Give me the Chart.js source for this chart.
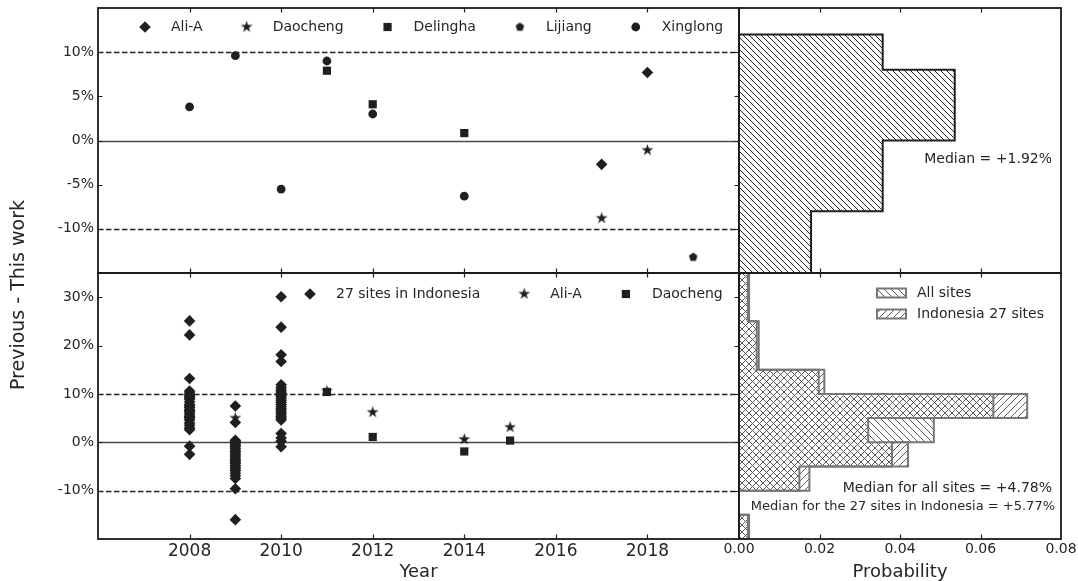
<!DOCTYPE html>
<html>
<head>
<meta charset="utf-8">
<title>Previous - This work</title>
<script src="https://cdn.jsdelivr.net/npm/chart.js@4.4.1/dist/chart.umd.min.js"></script>
<style>
  html, body { margin: 0; padding: 0; background: #ffffff; }
  #figure { position: relative; width: 1078px; height: 581px; overflow: hidden; }
  #figure canvas { position: absolute; left: 0; top: 0; }
</style>
</head>
<body>
<div id="figure">
  <canvas id="upperScatter" width="1078" height="581"></canvas>
  <canvas id="lowerScatter" width="1078" height="581"></canvas>
  <canvas id="upperHist" width="1078" height="581"></canvas>
  <canvas id="lowerHist" width="1078" height="581"></canvas>
</div>
<script>
// ---------------- data ----------------
const yearTicks = [2008, 2010, 2012, 2014, 2016, 2018];
const upperPctTicks = [-10, -5, 0, 5, 10];
const lowerPctTicks = [-10, 0, 10, 20, 30];
const probTicks = [0, 0.02, 0.04, 0.06, 0.08];
const probInnerTicks = [0.02, 0.04, 0.06];

// upper panel: Chinese sites
const aliUpperYears = [2017, 2018];
const aliUpperDiff = [-2.7, 7.7];
const daochengUpperYears = [2017, 2018];
const daochengUpperDiff = [-8.8, -1.1];
const delinghaYears = [2011, 2012, 2014];
const delinghaDiff = [7.9, 4.1, 0.84];
const lijiangYears = [2019];
const lijiangDiff = [-13.2];
const xinglongYears = [2008, 2009, 2010, 2011, 2012, 2014];
const xinglongDiff = [3.8, 9.6, -5.5, 9.0, 3.0, -6.3];

// lower panel: 27 Indonesian sites per campaign year, plus Ali-A and Daocheng
const indonesiaYears = [2008, 2009, 2010];
const indonesia2008 = [25.1, 22.2, 13.2, 10.6, 10.2, 9.8, 9.5, 9.2, 8.9, 8.4, 7.8, 7.5, 7.2, 6.8,
  6.5, 6.2, 5.8, 5.4, 5.2, 5.0, 4.6, 4.0, 3.5, 3.0, 2.6, -0.8, -2.5];
const indonesia2009 = [7.5, 4.1, 0.4, 0.2, 0.0, -0.3, -0.6, -0.9, -1.3, -1.7, -2.0, -2.4, -2.8, -3.1,
  -3.5, -3.8, -4.1, -4.4, -4.8, -5.1, -5.5, -5.9, -6.4, -6.9, -7.5, -9.6, -16.0];
const indonesia2010 = [30.1, 23.8, 18.1, 16.7, 11.9, 11.3, 10.8, 10.4, 10.1, 9.8, 9.4, 9.0, 8.6, 8.2,
  7.8, 7.4, 7.0, 6.6, 6.2, 5.8, 5.4, 5.0, 4.6, 1.8, 0.9, 0.2, -0.9];
const aliLowerYears = [2009, 2011, 2012, 2014, 2015];
const aliLowerDiff = [5.0, 10.6, 6.2, 0.6, 3.1];
const daochengLowerYears = [2011, 2012, 2014, 2015];
const daochengLowerDiff = [10.4, 1.1, -1.9, 0.35];

// histograms (probability density per bin)
const upperBinEdges = [-16, -12, -8, -4, 0, 4, 8, 12];
const upperBinProb = [0.0179, 0.0179, 0.0357, 0.0357, 0.0536, 0.0536, 0.0357];
const lowerBinEdges = [-20, -15, -10, -5, 0, 5, 10, 15, 20, 25, 30, 35];
const allSitesProb = [0.0022, 0, 0.0150, 0.0380, 0.0484, 0.0632, 0.0198, 0.0044, 0.0044, 0.0022, 0.0022];
const indonesiaProb = [0.0025, 0, 0.0175, 0.0420, 0.0321, 0.0716, 0.0212, 0.0049, 0.0049, 0.0025, 0.0025];

const upperMedianText = 'Median = +1.92%';
const allMedianText = 'Median for all sites = +4.78%';
const indonesiaMedianText = 'Median for the 27 sites in Indonesia = +5.77%';

// ---------------- layout & style ----------------
const W = 1078, H = 581;
const LEFT = 98, MID = 739, RIGHT = 1061, TOP = 8, SPLIT = 273, BOTTOM = 539;
const FONT = "'DejaVu Sans', 'Liberation Sans', sans-serif";
const INK = '#1f1f1f';
const TXT = '#262626';
const GREY = '#777777';

Chart.defaults.font.family = FONT;
Chart.defaults.color = TXT;

function areaPadding(l, t, r, b) {
  return { left: l, top: t, right: W - r, bottom: H - b };
}

// filled marker images for star and pentagon
function polygonMarker(points, outer, inner) {
  const s = Math.ceil(outer * 2 + 4);
  const c = document.createElement('canvas');
  c.width = s; c.height = s;
  const g = c.getContext('2d');
  g.fillStyle = INK;
  g.beginPath();
  const n = inner ? points * 2 : points;
  for (let i = 0; i < n; i++) {
    const r = inner && i % 2 ? inner : outer;
    const a = -Math.PI / 2 + i * 2 * Math.PI / n;
    const px = s / 2 + r * Math.cos(a), py = s / 2 + r * Math.sin(a);
    if (i) g.lineTo(px, py); else g.moveTo(px, py);
  }
  g.closePath();
  g.fill();
  return c;
}
const starMarker = polygonMarker(5, 6.2, 6.2 * 0.382);
const pentagonMarker = polygonMarker(5, 4.5, 0);

const MARK = {
  diamond: { style: 'rectRot', radius: 5.8 },
  square: { style: 'rect', radius: 5.8 },
  circle: { style: 'circle', radius: 4.4 },
  star: { style: starMarker, radius: 5 },
  pentagon: { style: pentagonMarker, radius: 4 }
};

function drawMarker(ctx, m, x, y) {
  ctx.save();
  ctx.fillStyle = INK;
  if (Chart.helpers && Chart.helpers.drawPoint) {
    Chart.helpers.drawPoint(ctx, { pointStyle: m.style, radius: m.radius, rotation: 0, borderWidth: 0 }, x, y);
  } else if (typeof m.style === 'object') {
    ctx.drawImage(m.style, x - m.style.width / 2, y - m.style.height / 2);
  } else {
    ctx.beginPath();
    if (m.style === 'circle') ctx.arc(x, y, m.radius, 0, Math.PI * 2);
    else if (m.style === 'rect') { const h = m.radius * Math.SQRT1_2; ctx.rect(x - h, y - h, 2 * h, 2 * h); }
    else { ctx.moveTo(x, y - m.radius); ctx.lineTo(x + m.radius, y); ctx.lineTo(x, y + m.radius); ctx.lineTo(x - m.radius, y); ctx.closePath(); }
    ctx.fill();
  }
  ctx.restore();
}

function hatch(kind, color, size, lw) {
  const c = document.createElement('canvas');
  c.width = size; c.height = size;
  const g = c.getContext('2d');
  g.strokeStyle = color;
  g.lineWidth = lw;
  g.beginPath();
  for (let k = -1; k <= 1; k++) {
    if (kind === '\\') { g.moveTo(k * size, 0); g.lineTo(k * size + size, size); }
    else { g.moveTo(k * size, size); g.lineTo(k * size + size, 0); }
  }
  g.stroke();
  return g.createPattern(c, 'repeat');
}
const upperHatch = hatch('\\', '#1f1f1f', 6, 1);
const allHatch = hatch('\\', '#5a5a5a', 7, 1);
const indoHatch = hatch('/', '#5a5a5a', 7, 1);

function siteSeries(label, years, diffs, mark) {
  return {
    label,
    data: years.map((yr, i) => ({ x: yr, y: diffs[i] })),
    pointStyle: mark.style,
    pointRadius: mark.radius,
    pointHoverRadius: mark.radius,
    pointBackgroundColor: INK,
    pointBorderColor: INK,
    pointBorderWidth: 0,
    showLine: false
  };
}

function binCenters(edges) {
  return edges.slice(0, -1).map((e, i) => (e + edges[i + 1]) / 2);
}
function stepOutline(edges, probs) {
  const pts = [{ x: 0, y: edges[0] }];
  probs.forEach((p, i) => { pts.push({ x: p, y: edges[i] }); pts.push({ x: p, y: edges[i + 1] }); });
  pts.push({ x: 0, y: edges[edges.length - 1] });
  return pts;
}
function histBars(edges, probs, pattern) {
  return {
    type: 'bar',
    order: 2,
    data: binCenters(edges).map((c, i) => ({ x: probs[i], y: c })),
    backgroundColor: pattern,
    borderWidth: 0,
    barPercentage: 1,
    categoryPercentage: 1,
    grouped: false
  };
}
function histOutline(edges, probs, color, width) {
  return {
    type: 'line',
    order: 1,
    data: stepOutline(edges, probs),
    borderColor: color,
    borderWidth: width,
    pointRadius: 0,
    pointHoverRadius: 0,
    fill: false,
    tension: 0
  };
}

function pctAxis(min, max, ticks) {
  return {
    type: 'linear', min, max, offset: false,
    grid: { display: false, drawTicks: false },
    border: { display: false },
    afterBuildTicks: s => { s.ticks = ticks.map(v => ({ value: v })); },
    afterFit: s => { s.width = LEFT; s.paddingTop = 0; s.paddingBottom = 0; s.paddingLeft = 0; s.paddingRight = 0; },
    ticks: { padding: 4, color: TXT, font: { family: FONT, size: 14 }, callback: v => v + '%' }
  };
}
function hiddenAxis(min, max, ticks) {
  return {
    type: 'linear', min, max, offset: false, display: false,
    afterBuildTicks: s => { s.ticks = ticks.map(v => ({ value: v })); }
  };
}
function bottomAxis(min, max, ticks, fmt, size, title) {
  return {
    type: 'linear', min, max, offset: false,
    grid: { display: false, drawTicks: false },
    border: { display: false },
    afterBuildTicks: s => { s.ticks = ticks.map(v => ({ value: v })); },
    afterFit: s => { s.height = H - BOTTOM; s.paddingLeft = 0; s.paddingRight = 0; s.paddingTop = 0; s.paddingBottom = 0; },
    ticks: { padding: 2, color: TXT, maxRotation: 0, autoSkip: false, font: { family: FONT, size }, callback: fmt },
    title: { display: true, text: title, color: TXT, padding: 0, font: { family: FONT, size: 18, lineHeight: 1 } }
  };
}

const pctRefLines = [
  { value: 10, dash: [5.5, 2.5], color: '#222222', width: 1.3 },
  { value: 0, dash: [], color: '#4a4a4a', width: 1.5 },
  { value: -10, dash: [5.5, 2.5], color: '#222222', width: 1.3 }
];

// frame, inward ticks and reference lines for each panel
function panelFrame(xTicks, yTicks, refs) {
  return {
    id: 'panelFrame',
    beforeDatasetsDraw(chart) {
      const { ctx, chartArea: a, scales } = chart;
      ctx.save();
      refs.forEach(r => {
        const py = Math.round(scales.y.getPixelForValue(r.value)) + 0.5;
        ctx.beginPath();
        ctx.setLineDash(r.dash);
        ctx.strokeStyle = r.color;
        ctx.lineWidth = r.width;
        ctx.moveTo(a.left, py);
        ctx.lineTo(a.right, py);
        ctx.stroke();
      });
      ctx.restore();
    },
    afterDraw(chart) {
      const { ctx, chartArea: a, scales } = chart;
      const L = 4.5;
      ctx.save();
      ctx.strokeStyle = INK;
      ctx.lineWidth = 1.2;
      ctx.beginPath();
      xTicks.forEach(v => {
        const px = Math.round(scales.x.getPixelForValue(v)) + 0.5;
        ctx.moveTo(px, a.top); ctx.lineTo(px, a.top + L);
        ctx.moveTo(px, a.bottom); ctx.lineTo(px, a.bottom - L);
      });
      yTicks.forEach(v => {
        const py = Math.round(scales.y.getPixelForValue(v)) + 0.5;
        ctx.moveTo(a.left, py); ctx.lineTo(a.left + L, py);
        ctx.moveTo(a.right, py); ctx.lineTo(a.right - L, py);
      });
      ctx.stroke();
      ctx.lineWidth = 1.8;
      ctx.strokeStyle = '#1a1a1a';
      ctx.strokeRect(a.left, a.top, a.right - a.left, a.bottom - a.top);
      ctx.restore();
    }
  };
}

// single-row marker legend inside a scatter panel
function markerLegend(items, xOffset, yOffset) {
  return {
    id: 'markerLegend',
    afterDraw(chart) {
      const { ctx, chartArea: a } = chart;
      ctx.save();
      ctx.font = '14px ' + FONT;
      ctx.textBaseline = 'middle';
      let x = a.left + xOffset;
      const y = a.top + yOffset;
      items.forEach(it => {
        drawMarker(ctx, it.mark, x, y);
        ctx.fillStyle = TXT;
        ctx.fillText(it.label, x + 26, y);
        x += 26 + ctx.measureText(it.label).width + 44;
      });
      ctx.restore();
    }
  };
}

function textNotes(notes) {
  return {
    id: 'textNotes',
    afterDraw(chart) {
      const { ctx, chartArea: a } = chart;
      ctx.save();
      ctx.fillStyle = TXT;
      ctx.textBaseline = 'middle';
      notes.forEach(n => {
        ctx.font = n.size + 'px ' + FONT;
        ctx.textAlign = n.align;
        ctx.fillText(n.text, a.right + n.dx, a.top + n.dy);
      });
      ctx.restore();
    }
  };
}

// ---------------- upper scatter ----------------
new Chart(document.getElementById('upperScatter'), {
  type: 'scatter',
  data: {
    datasets: [
      siteSeries('Xinglong', xinglongYears, xinglongDiff, MARK.circle),
      siteSeries('Lijiang', lijiangYears, lijiangDiff, MARK.pentagon),
      siteSeries('Delingha', delinghaYears, delinghaDiff, MARK.square),
      siteSeries('Daocheng', daochengUpperYears, daochengUpperDiff, MARK.star),
      siteSeries('Ali-A', aliUpperYears, aliUpperDiff, MARK.diamond)
    ]
  },
  options: {
    responsive: false, animation: false, events: [],
    layout: { padding: areaPadding(0, TOP, MID, SPLIT) },
    plugins: { legend: { display: false }, tooltip: { enabled: false } },
    scales: {
      x: hiddenAxis(2006, 2020, yearTicks),
      y: pctAxis(-15, 15, upperPctTicks)
    }
  },
  plugins: [
    panelFrame(yearTicks, upperPctTicks, pctRefLines),
    markerLegend([
      { label: 'Ali-A', mark: MARK.diamond },
      { label: 'Daocheng', mark: MARK.star },
      { label: 'Delingha', mark: MARK.square },
      { label: 'Lijiang', mark: MARK.pentagon },
      { label: 'Xinglong', mark: MARK.circle }
    ], 47, 19)
  ]
});

// ---------------- lower scatter ----------------
const indonesiaSeries = [indonesia2008, indonesia2009, indonesia2010];
new Chart(document.getElementById('lowerScatter'), {
  type: 'scatter',
  data: {
    datasets: [
      siteSeries('Daocheng', daochengLowerYears, daochengLowerDiff, MARK.square),
      siteSeries('Ali-A', aliLowerYears, aliLowerDiff, MARK.star),
      siteSeries('27 sites in Indonesia',
        indonesiaYears.flatMap((yr, k) => indonesiaSeries[k].map(() => yr)),
        indonesiaSeries.flat(), MARK.diamond)
    ]
  },
  options: {
    responsive: false, animation: false, events: [],
    layout: { padding: areaPadding(0, SPLIT, MID, H) },
    plugins: { legend: { display: false }, tooltip: { enabled: false } },
    scales: {
      x: bottomAxis(2006, 2020, yearTicks, v => String(v), 17, 'Year'),
      y: pctAxis(-20, 35, lowerPctTicks)
    }
  },
  plugins: [
    panelFrame(yearTicks, lowerPctTicks, pctRefLines),
    markerLegend([
      { label: '27 sites in Indonesia', mark: MARK.diamond },
      { label: 'Ali-A', mark: MARK.star },
      { label: 'Daocheng', mark: MARK.square }
    ], 212, 21),
    {
      id: 'sharedYTitle',
      afterDraw(chart) {
        const ctx = chart.ctx;
        ctx.save();
        ctx.translate(19, 295);
        ctx.rotate(-Math.PI / 2);
        ctx.font = '19px ' + FONT;
        ctx.fillStyle = TXT;
        ctx.textAlign = 'center';
        ctx.textBaseline = 'middle';
        ctx.fillText('Previous - This work', 0, 0);
        ctx.restore();
      }
    }
  ]
});

// ---------------- upper histogram ----------------
new Chart(document.getElementById('upperHist'), {
  type: 'bar',
  data: {
    datasets: [
      histBars(upperBinEdges, upperBinProb, upperHatch),
      histOutline(upperBinEdges, upperBinProb, '#1f1f1f', 2)
    ]
  },
  options: {
    indexAxis: 'y',
    responsive: false, animation: false, events: [],
    layout: { padding: areaPadding(MID, TOP, RIGHT, SPLIT) },
    plugins: { legend: { display: false }, tooltip: { enabled: false } },
    scales: {
      x: hiddenAxis(0, 0.08, probTicks),
      y: hiddenAxis(-15, 15, upperPctTicks)
    }
  },
  plugins: [
    panelFrame(probInnerTicks, [], []),
    textNotes([{ text: upperMedianText, align: 'right', size: 14, dx: -9, dy: 151 }])
  ]
});

// ---------------- lower histogram ----------------
new Chart(document.getElementById('lowerHist'), {
  type: 'bar',
  data: {
    datasets: [
      histBars(lowerBinEdges, allSitesProb, allHatch),
      histBars(lowerBinEdges, indonesiaProb, indoHatch),
      histOutline(lowerBinEdges, allSitesProb, GREY, 2),
      histOutline(lowerBinEdges, indonesiaProb, GREY, 2)
    ]
  },
  options: {
    indexAxis: 'y',
    responsive: false, animation: false, events: [],
    layout: { padding: areaPadding(MID, SPLIT, RIGHT, H) },
    plugins: { legend: { display: false }, tooltip: { enabled: false } },
    scales: {
      x: bottomAxis(0, 0.08, probTicks, v => v.toFixed(2), 14, 'Probability'),
      y: hiddenAxis(-20, 35, lowerPctTicks)
    }
  },
  plugins: [
    panelFrame(probInnerTicks, [], []),
    textNotes([
      { text: allMedianText, align: 'right', size: 14, dx: -9, dy: 215 },
      { text: indonesiaMedianText, align: 'right', size: 13, dx: -6, dy: 234 }
    ]),
    {
      id: 'histLegend',
      afterDraw(chart) {
        const { ctx, chartArea: a } = chart;
        const entries = [
          { label: 'All sites', pattern: allHatch },
          { label: 'Indonesia 27 sites', pattern: indoHatch }
        ];
        ctx.save();
        ctx.font = '14px ' + FONT;
        ctx.textBaseline = 'middle';
        entries.forEach((e, i) => {
          const cy = a.top + 20 + i * 21;
          const bx = a.left + 138;
          ctx.fillStyle = e.pattern;
          ctx.fillRect(bx, cy - 4.5, 29, 9);
          ctx.strokeStyle = GREY;
          ctx.lineWidth = 2;
          ctx.strokeRect(bx, cy - 4.5, 29, 9);
          ctx.fillStyle = TXT;
          ctx.fillText(e.label, bx + 40, cy);
        });
        ctx.restore();
      }
    }
  ]
});
</script>
</body>
</html>
